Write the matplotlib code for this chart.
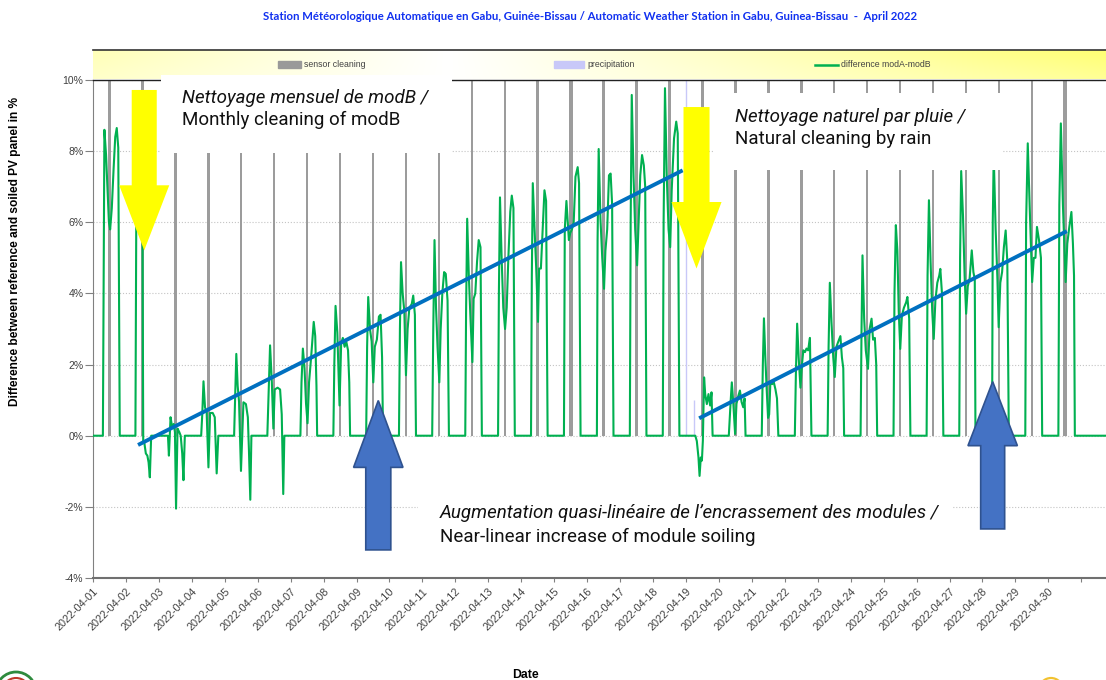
import datetime as dt
import matplotlib
matplotlib.use("Agg")
import matplotlib.pyplot as plt
import matplotlib.dates as mdates
import numpy as np
from matplotlib.patches import Polygon, Rectangle, Ellipse

plt.rcParams["font.family"] = ["Liberation Sans", "DejaVu Sans"]

W, H = 1106, 680
START = dt.datetime(2022, 4, 1)

# difference modA-modB (%), one list of (hour, value) per day
d01 = [(0.0, 0.0), (7.2, 0.0), (8.3, 8.6), (9.5, 7.9), (10.6, 6.9), (11.6, 6.0), (12.5, 5.8),
       (13.7, 6.4), (15.0, 7.5), (16.2, 8.4), (17.3, 8.65), (18.4, 8.1), (19.5, 0.0)]
d02 = [(6.9, 0.0), (7.6, 6.9), (8.5, 7.9), (9.7, 7.5), (10.9, 7.0), (12.0, 6.6), (12.6, -0.2),
       (13.4, -0.2), (14.5, -0.5), (15.6, -0.56), (16.5, -0.75), (17.4, -1.17), (18.4, 0.0)]
d03 = [(6.6, 0.0), (7.3, -0.56), (8.5, 0.52), (9.6, 0.25), (10.8, 0.33), (11.7, 0.1), (12.5, -2.05),
       (13.6, 0.2), (14.9, 0.1), (15.9, 0.0), (17.0, -0.5), (17.9, -1.25), (18.9, 0.0)]
d04 = [(6.8, 0.0), (7.6, 0.6), (8.5, 1.53), (9.6, 0.8), (10.8, 0.66), (12.1, -0.89), (13.3, 0.64),
       (15.2, 0.64), (16.7, 0.52), (18.1, -1.06), (19.3, 0.0)]
d05 = [(6.8, 0.0), (7.5, 1.0), (8.4, 2.3), (9.4, 1.4), (10.4, 0.95), (11.8, -0.99), (12.6, -0.1),
       (13.6, 0.94), (15.4, 0.89), (16.8, 0.52), (17.6, -0.4), (18.6, -1.8), (19.4, 0.0)]
d06 = [(7.0, 0.0), (7.8, 1.0), (9.0, 2.54), (10.3, 1.5), (11.4, 0.2), (12.4, 1.3), (14.5, 1.35),
       (16.3, 1.3), (17.5, 0.6), (18.6, -1.64), (19.4, 0.0)]
d07 = [(7.1, 0.0), (7.9, 1.5), (8.9, 2.45), (10.1, 1.9), (11.2, 0.9), (12.3, 0.35), (13.4, 1.5),
       (14.9, 2.2), (16.8, 3.2), (17.9, 2.8), (18.8, 1.4), (19.3, 0.0)]
d08 = [(7.1, 0.0), (7.8, 2.0), (8.7, 3.65), (10.0, 2.9), (11.6, 0.85), (12.8, 2.6), (14.0, 2.75),
       (15.3, 2.5), (16.5, 2.65), (17.8, 2.4), (18.7, 1.5), (19.3, 0.0)]
d09 = [(7.0, 0.0), (7.7, 2.5), (8.5, 3.9), (9.8, 3.0), (11.0, 2.65), (12.2, 1.5), (13.3, 2.5),
       (14.8, 2.7), (16.3, 3.35), (17.5, 3.4), (18.6, 2.2), (19.3, 0.0)]
d10 = [(6.9, 0.0), (7.6, 3.0), (8.4, 4.88), (9.6, 4.0), (10.8, 3.5), (12.0, 1.7), (13.2, 3.0),
       (14.5, 3.6), (16.2, 3.7), (17.3, 3.94), (18.5, 3.4), (19.3, 0.0)]
d11 = [(7.1, 0.0), (7.9, 3.0), (8.8, 5.5), (9.9, 3.6), (11.0, 2.5), (12.3, 1.5), (13.3, 3.0),
       (14.5, 4.0), (15.8, 4.6), (17.0, 4.55), (18.3, 3.8), (19.3, 0.0)]
d12 = [(7.2, 0.0), (7.8, 3.5), (8.6, 6.1), (9.8, 4.5), (11.0, 3.3), (12.4, 2.07), (13.3, 3.85),
       (14.5, 4.0), (15.8, 4.9), (17.0, 5.5), (18.3, 5.3), (19.3, 0.0)]
d13 = [(7.1, 0.0), (7.7, 4.0), (8.5, 6.7), (9.7, 5.0), (10.9, 3.6), (12.2, 3.0), (13.4, 3.6),
       (14.6, 5.0), (16.0, 6.3), (17.1, 6.75), (18.3, 6.4), (19.3, 0.0)]
d14 = [(7.1, 0.0), (7.7, 4.5), (8.4, 7.1), (9.7, 5.8), (10.9, 4.7), (12.2, 3.2), (13.0, 4.7),
       (14.3, 4.7), (15.6, 5.8), (16.9, 6.9), (18.1, 6.6), (19.2, 0.0)]
d15 = [(7.1, 0.0), (7.7, 5.8), (8.9, 6.6), (10.7, 5.5), (11.7, 5.7), (12.9, 5.8), (14.2, 6.0),
       (15.5, 7.28), (17.1, 7.55), (18.1, 7.1), (19.2, 0.0)]
d16 = [(7.1, 0.0), (7.6, 5.5), (8.4, 8.06), (9.7, 6.1), (11.0, 5.0), (12.3, 4.13), (13.3, 5.2),
       (14.6, 5.8), (15.9, 7.32), (17.1, 7.37), (18.2, 6.5), (19.2, 0.0)]
d17 = [(7.1, 0.0), (7.7, 6.0), (8.5, 9.58), (9.8, 7.3), (11.0, 5.8), (12.4, 4.79), (13.4, 5.9),
       (14.7, 7.32), (16.0, 7.89), (17.3, 7.6), (18.3, 7.0), (19.2, 0.0)]
d18 = [(7.1, 0.0), (7.7, 6.0), (8.7, 9.77), (10.0, 7.3), (11.3, 5.8), (12.5, 5.3), (13.6, 6.9),
       (15.3, 8.36), (16.9, 8.83), (18.0, 8.5), (19.2, 0.0)]
d19 = [(6.8, 0.0), (7.9, -0.15), (9.1, -0.61), (9.9, -1.13), (10.8, -0.61), (11.6, -0.7),
       (12.3, -0.14), (13.2, 1.64), (14.0, 1.17), (15.2, 0.89), (16.4, 1.17), (17.6, 0.85),
       (18.6, 1.22), (19.4, 0.0)]
d20 = [(7.2, 0.0), (8.6, 1.0), (9.4, 1.5), (10.5, 0.9), (11.8, 0.05), (12.8, 0.9), (14.0, 1.1),
       (15.3, 1.27), (16.5, 0.95), (17.7, 0.8), (18.7, 1.05), (19.4, 0.0)]
d21 = [(7.2, 0.0), (8.0, 2.0), (8.8, 3.3), (9.8, 2.2), (10.8, 1.3), (11.8, 0.5), (12.6, 0.6),
       (13.5, 1.5), (14.8, 1.45), (16.0, 1.5), (17.2, 1.3), (18.3, 1.05), (19.3, 0.0)]
d22 = [(7.3, 0.0), (8.1, 1.8), (9.0, 3.15), (10.1, 2.2), (11.4, 1.35), (12.5, 2.0), (13.5, 2.4),
       (14.7, 2.35), (15.8, 2.45), (17.0, 2.4), (18.3, 2.75), (19.4, 0.0)]
d23 = [(7.2, 0.0), (7.9, 2.5), (8.8, 4.3), (10.0, 3.2), (11.3, 2.2), (12.4, 1.65), (13.6, 2.5),
       (15.0, 2.65), (16.5, 2.8), (17.6, 2.2), (18.6, 1.9), (19.2, 0.0)]
d24 = [(7.2, 0.0), (7.9, 3.0), (8.6, 5.07), (9.8, 3.3), (11.0, 2.4), (12.6, 1.88), (13.8, 3.0),
       (15.2, 3.29), (16.3, 2.7), (17.6, 2.75), (18.6, 2.0), (19.3, 0.0)]
d25 = [(7.2, 0.0), (7.9, 4.0), (8.9, 5.92), (10.0, 5.2), (11.0, 3.5), (12.1, 2.44), (13.3, 3.38),
       (14.8, 3.6), (16.4, 3.75), (17.3, 3.9), (18.6, 3.3), (19.5, 0.0)]
d26 = [(7.3, 0.0), (8.0, 4.5), (9.0, 6.62), (10.2, 4.9), (11.4, 3.5), (12.5, 2.72), (13.7, 3.8),
       (15.1, 4.3), (16.5, 4.5), (17.3, 4.69), (18.5, 4.0), (19.5, 0.0)]
d27 = [(7.1, 0.0), (7.7, 5.0), (8.5, 7.44), (9.8, 6.2), (11.0, 4.5), (12.1, 3.43), (13.3, 4.2),
       (14.6, 4.4), (16.2, 5.21), (17.4, 4.6), (18.4, 4.4), (18.9, 0.0)]
d28 = [(7.0, 0.0), (7.5, 6.0), (8.2, 7.9), (9.6, 5.8), (10.9, 4.4), (11.8, 3.05), (13.0, 4.3),
       (14.3, 4.6), (15.6, 5.3), (16.9, 5.77), (18.1, 4.9), (19.2, 0.0)]
d29 = [(7.2, 0.0), (7.8, 6.0), (9.0, 8.22), (10.6, 6.2), (12.2, 4.32), (13.4, 5.0), (14.6, 5.0),
       (15.7, 5.87), (17.2, 5.5), (18.6, 5.0), (19.5, 0.0)]
d30 = [(7.3, 0.0), (8.0, 6.5), (9.1, 8.78), (10.6, 6.5), (12.6, 4.32), (13.8, 5.4), (15.2, 5.85),
       (16.8, 6.29), (17.9, 5.4), (18.7, 4.5), (19.3, 0.0)]
d31 = [(0.0, 0.0), (20.0, 0.0)]
daily_diff = [d01, d02, d03, d04, d05, d06, d07, d08, d09, d10, d11, d12, d13, d14, d15, d16,
              d17, d18, d19, d20, d21, d22, d23, d24, d25, d26, d27, d28, d29, d30, d31]

# sensor cleaning: once a day around noon, drawn full height; duration in hours
cleaning_day = list(range(30))
cleaning_hour = 12.0
cleaning_level = 10.0
cleaning_hours = [1.6, 1.6, 1.8, 1.8, 1.8, 1.8, 1.8, 1.8, 1.8, 1.8,
                  1.8, 1.8, 1.8, 1.8, 2.8, 1.8, 2.8, 1.8, 2.8, 1.8,
                  2.6, 1.8, 1.8, 1.8, 1.8, 1.8, 1.8, 1.8, 1.8, 2.8]

# precipitation on the night of 04-19
rain_day = [18, 18]
rain_hour = [0.0, 6.2]
rain_value = [10.0, 1.0]

# soiling trend lines (day offset, value)
trend_a = [(1.367, -0.26), (17.90, 7.46)]
trend_b = [(18.40, 0.49), (29.56, 5.75)]

y_ticks = [-4, -2, 0, 2, 4, 6, 8, 10]
tick_days = list(range(31))
tick_labels = [(START + dt.timedelta(days=i)).strftime("%Y-%m-%d") for i in range(30)] + [""]

X_END = 30.75  # right edge of the visible plot, in days


def at(day, hour=0.0):
    return mdates.date2num(START + dt.timedelta(days=day, hours=hour))


def block_arrow(ax, day, tip, head_base, tail, shaft_half, head_half, **kw):
    x0 = at(day)
    pts = [(x0 - shaft_half, tail), (x0 + shaft_half, tail), (x0 + shaft_half, head_base),
           (x0 + head_half, head_base), (x0, tip), (x0 - head_half, head_base),
           (x0 - shaft_half, head_base)]
    ax.add_patch(Polygon(pts, closed=True, zorder=7, clip_on=False, **kw))


fig = plt.figure(figsize=(W / 100, H / 100), dpi=100)

# legend strip with pale yellow gradient
lax = fig.add_axes([93 / W, 1 - 79 / H, 1 - 93 / W, 29 / H])
gx = np.linspace(0, 1, 400)
gy = np.linspace(0, 1, 30)[:, None]
tint = np.where(gx < 0.35, 0.28 * (1 - gx / 0.35), 0.55 * (gx - 0.35) / 0.65)
tint = tint[None, :] * (0.75 + 0.25 * gy)
img = np.ones((gy.size, gx.size, 3))
img[:, :, 2] = 1 - tint
lax.imshow(img, aspect="auto", extent=[0, 1, 0, 1], origin="lower")
lax.set_xlim(0, 1)
lax.set_ylim(0, 1)
lax.set_xticks([])
lax.set_yticks([])
for side in ["left", "right", "bottom"]:
    lax.spines[side].set_visible(False)
lax.spines["top"].set_color("#333333")
lax.spines["top"].set_linewidth(1.2)


def lx(px):
    return (px - 93) / (W - 93)


leg_font = ["Liberation Sans Narrow", "Liberation Sans"]
lax.add_patch(Rectangle((lx(278), 0.38), lx(301) - lx(278), 0.25, color="#999999"))
lax.text(lx(304), 0.5, "sensor cleaning", fontsize=6.3, color="#444444", va="center", family=leg_font)
lax.add_patch(Rectangle((lx(554), 0.38), lx(584) - lx(554), 0.25, color="#C8C8F8"))
lax.text(lx(587), 0.5, "precipitation", fontsize=6.3, color="#444444", va="center", family=leg_font)
lax.plot([lx(815), lx(838)], [0.5, 0.5], color="#00B050", lw=1.8)
lax.text(lx(841), 0.5, "difference modA-modB", fontsize=6.3, color="#444444", va="center",
         family=leg_font)
lax.set_zorder(0)

ax = fig.add_axes([93 / W, 1 - 578 / H, 1 - 93 / W, 498 / H])
ax.set_zorder(1)

# sensor cleaning bars
ax.bar([at(d, cleaning_hour) for d in cleaning_day], [cleaning_level] * len(cleaning_day),
       width=[h / 24 for h in cleaning_hours], color="#9C9C9C", zorder=2, linewidth=0)

# precipitation
ax.vlines([at(d, h) for d, h in zip(rain_day, rain_hour)], 0, rain_value,
          color="#C8C8F8", lw=1.0, zorder=2)

# difference curve
times, values = [], []
for i, pts in enumerate(daily_diff):
    for hour, val in pts:
        times.append(at(i, hour))
        values.append(val)
ax.plot(times, values, color="#00B050", lw=1.5, zorder=3)

# trend lines
for tr in (trend_a, trend_b):
    ax.plot([at(p[0]) for p in tr], [p[1] for p in tr], color="#0070C0", lw=2.8,
            solid_capstyle="butt", zorder=6)

ax.set_xlim(at(0), at(X_END))
ax.set_ylim(-4, 10)
ax.set_yticks(y_ticks)
ax.set_yticklabels([f"{v}%" for v in y_ticks])
ax.set_xticks([at(d) for d in tick_days])
ax.set_xticklabels(tick_labels, rotation=45, ha="right", rotation_mode="anchor")
ax.tick_params(axis="y", labelsize=7.5, labelcolor="#404040", color="#808080", length=5.5,
               width=0.8, pad=1.5)
ax.tick_params(axis="x", labelsize=7.8, labelcolor="#404040", color="#808080", length=3,
               width=0.8, pad=3)
ax.grid(axis="y", color="#C4C4C4", linestyle=":", linewidth=0.8, zorder=0)
ax.set_axisbelow(True)
ax.spines["right"].set_visible(False)
ax.spines["top"].set_color("#222222")
ax.spines["top"].set_linewidth(1.0)
ax.spines["left"].set_color("#808080")
ax.spines["bottom"].set_color("#707070")
ax.spines["bottom"].set_linewidth(1.5)

# white text boxes
box_font = ["Roboto", "DejaVu Sans"]
boxes = [
    ((2.06, 10.14), (10.91, 7.94), (2.71, 9.35, 8.73),
     "Nettoyage mensuel de modB /", "Monthly cleaning of modB"),
    ((18.82, 9.63), (27.63, 7.46), (19.49, 8.83, 8.20),
     "Nettoyage naturel par pluie /", "Natural cleaning by rain"),
    ((9.86, -1.27), (26.10, -3.60), (10.53, -2.31, -2.99),
     "Augmentation quasi-linéaire de l\u2019encrassement des modules /",
     "Near-linear increase of module soiling"),
]
for (x0, y0), (x1, y1), (tx, ty1, ty2), line1, line2 in boxes:
    ax.add_patch(Rectangle((at(x0), y1), at(x1) - at(x0), y0 - y1, facecolor="white",
                           edgecolor="none", zorder=8, clip_on=False))
    ax.text(at(tx), ty1, line1, family=box_font, style="italic", fontsize=13.5,
            color="#111111", va="baseline", zorder=9)
    ax.text(at(tx), ty2, line2, family=box_font, fontsize=13.5, color="#111111",
            va="baseline", zorder=9)

# arrows
block_arrow(ax, 1.555, 5.21, 7.04, 9.72, 0.38, 0.76, facecolor="#FFFF00", edgecolor="none")
block_arrow(ax, 18.32, 4.70, 6.57, 9.24, 0.395, 0.76, facecolor="#FFFF00", edgecolor="none")
block_arrow(ax, 8.66, 0.99, -0.89, -3.21, 0.38, 0.75, facecolor="#4472C4", edgecolor="#2F528F", lw=1.2)
block_arrow(ax, 27.31, 1.52, -0.28, -2.62, 0.364, 0.75, facecolor="#4472C4", edgecolor="#2F528F", lw=1.2)

fig.text(590 / W, 1 - 17 / H,
         "Station Météorologique Automatique en Gabu, Guinée-Bissau / Automatic Weather Station "
         "in Gabu, Guinea-Bissau  -  April 2022",
         ha="center", va="center", fontsize=8.2, fontweight="bold", color="#1030F0",
         family=["Lato", "DejaVu Sans"])
fig.text(15 / W, 1 - 251 / H, "Difference between reference and soiled PV panel in %",
         rotation=90, ha="center", va="center", fontsize=8.6, fontweight="bold")
fig.text(525 / W, 1 - 675 / H, "Date", ha="center", va="center", fontsize=8.8, fontweight="bold")

# partial logos cut by the bottom edge
fig.add_artist(Ellipse((16 / W, 1 - 692 / H), 40 / W, 40 / H, facecolor="white",
                       edgecolor="#2E8B3E", lw=2.0, transform=fig.transFigure))
fig.add_artist(Ellipse((16 / W, 1 - 692 / H), 28 / W, 28 / H, facecolor="none",
                       edgecolor="#C0392B", lw=1.5, transform=fig.transFigure))
fig.add_artist(Ellipse((1051 / W, 1 - 690 / H), 24 / W, 24 / H, facecolor="none",
                       edgecolor="#F2C230", lw=1.6, transform=fig.transFigure))

fig.savefig("out.png", dpi=100)
